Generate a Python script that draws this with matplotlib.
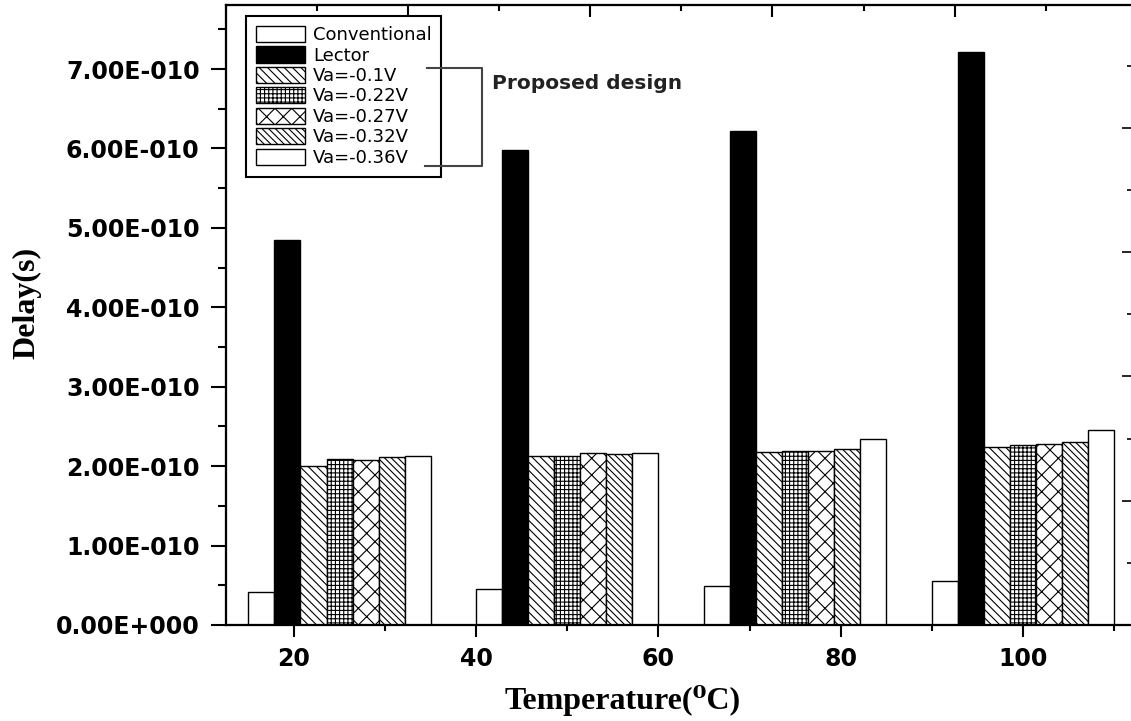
import numpy as np
import matplotlib
matplotlib.use("Agg")
import matplotlib.pyplot as plt
from matplotlib.ticker import MultipleLocator, FixedLocator, FuncFormatter
from matplotlib.lines import Line2D

# group centres on the temperature axis and delays (in units of 1e-10 s)
group_x = [25, 50, 75, 100]
series_labels = ["Conventional", "Lector", "Va=-0.1V", "Va=-0.22V",
                 "Va=-0.27V", "Va=-0.32V", "Va=-0.36V"]
conventional = [0.41, 0.45, 0.495, 0.56]
lector = [4.85, 5.98, 6.22, 7.22]
va_01 = [2.00, 2.13, 2.18, 2.24]
va_022 = [2.09, 2.13, 2.19, 2.26]
va_027 = [2.08, 2.16, 2.19, 2.28]
va_032 = [2.11, 2.15, 2.22, 2.30]
va_036 = [2.13, 2.17, 2.34, 2.45]
x_ticks = [20, 40, 60, 80, 100]
y_ticks = [0, 1e-10, 2e-10, 3e-10, 4e-10, 5e-10, 6e-10, 7e-10]

plt.rcParams['hatch.linewidth'] = 0.8

fig = plt.figure(figsize=(11.31, 7.21), dpi=100)
ax = fig.add_axes([226 / 1131, 96 / 721, 907 / 1131, 620 / 721])

series = [conventional, lector, va_01, va_022, va_027, va_032, va_036]
faces = ['white', 'black', 'white', 'white', 'white', 'white', 'white']
hatches = [None, None, '\\' * 4, '+' * 4, 'xx', '\\' * 5, None]
w = 20 / 7
gx = np.array(group_x, dtype=float)
for i, vals in enumerate(series):
    ax.bar(gx + (i - 3) * w, np.array(vals) * 1e-10, width=w,
           facecolor=faces[i], edgecolor='black', linewidth=1.0,
           hatch=hatches[i], label=series_labels[i])

ax.set_xlim(12.54, 112.07)
ax.set_ylim(0, 7.806e-10)


def sci_fmt(v, pos):
    if v == 0:
        return "0.00E+000"
    e = int(np.floor(np.log10(abs(v)) + 1e-9))
    m = v / 10 ** e
    return f"{m:.2f}E{'-' if e < 0 else '+'}{abs(e):03d}"


ax.yaxis.set_major_locator(FixedLocator(y_ticks))
ax.yaxis.set_minor_locator(FixedLocator(np.arange(0.5, 7.6, 1.0) * 1e-10))
ax.yaxis.set_major_formatter(FuncFormatter(sci_fmt))
ax.xaxis.set_major_locator(FixedLocator(x_ticks))
ax.xaxis.set_minor_locator(FixedLocator([30, 50, 70, 90, 110]))

ax.tick_params(axis='y', which='major', direction='out', length=11, width=1.5,
               pad=8, labelsize=17)
ax.tick_params(axis='y', which='minor', direction='out', length=6, width=1.5)
ax.tick_params(axis='x', which='major', direction='out', length=8.5, width=1.5,
               pad=7, labelsize=17)
ax.tick_params(axis='x', which='minor', direction='out', length=4, width=1.5)
for lab in ax.get_xticklabels() + ax.get_yticklabels():
    lab.set_fontweight('bold')
    lab.set_family('DejaVu Sans')

for s in ax.spines.values():
    s.set_linewidth(1.5)

# right axis ticks (own scale) and top axis ticks
ax_r = ax.twinx()
ax_r.set_ylim(0, 4.988)
ax_r.yaxis.set_major_locator(FixedLocator([0, 1, 2, 3, 4]))
ax_r.yaxis.set_minor_locator(FixedLocator([0.5, 1.5, 2.5, 3.5, 4.5]))
ax_r.tick_params(axis='y', which='major', direction='in', length=8, width=1.2,
                 labelright=False)
ax_r.tick_params(axis='y', which='minor', direction='in', length=4, width=1.2)
ax_t = ax.twiny()
ax_t.set_xlim(ax.get_xlim())
ax_t.xaxis.set_major_locator(FixedLocator([32.5, 52.5, 72.5, 92.5]))
ax_t.xaxis.set_minor_locator(FixedLocator([22.5, 42.5, 62.5, 82.5, 102.5]))
ax_t.tick_params(axis='x', which='major', direction='in', length=8.5, width=1.5,
                 labeltop=False)
ax_t.tick_params(axis='x', which='minor', direction='in', length=4, width=1.5)
for a in (ax_r, ax_t):
    for s in a.spines.values():
        s.set_linewidth(1.5)

serif = ['Liberation Serif', 'DejaVu Serif']
ax.text(0.437, -0.121, "Temperature(\u2070C)", transform=ax.transAxes,
        fontsize=23, fontweight='bold', family=serif, ha='center', va='center')
ax.text(-0.219, 0.52, "Delay(s)", transform=ax.transAxes, rotation=90,
        fontsize=23, fontweight='bold', family=serif, ha='center', va='center')

leg = ax.legend(loc='upper left', bbox_to_anchor=(246 / 1131, 1 - 16 / 721),
                bbox_transform=fig.transFigure, borderaxespad=0,
                prop={'family': 'DejaVu Sans', 'size': 13},
                handlelength=2.7, handleheight=1.0, handletextpad=0.45,
                labelspacing=0.12, borderpad=0.55, fancybox=False,
                framealpha=1, edgecolor='black')
leg.get_frame().set_linewidth(1.5)
leg.set_zorder(10)

# bracket grouping the proposed-design entries
bx = [0.2216, 0.2822, 0.2822, 0.2194]
by = [0.8984, 0.8984, 0.7403, 0.7403]
ax.add_line(Line2D(bx, by, transform=ax.transAxes, color='#444444', lw=1.5,
                   clip_on=False, zorder=11))
ax.text(0.2933, 0.874, "Proposed design", transform=ax.transAxes,
        fontsize=14.5, fontweight='bold', family='DejaVu Sans',
        color='#222222', va='center', ha='left')

fig.savefig("out.png", dpi=100)
